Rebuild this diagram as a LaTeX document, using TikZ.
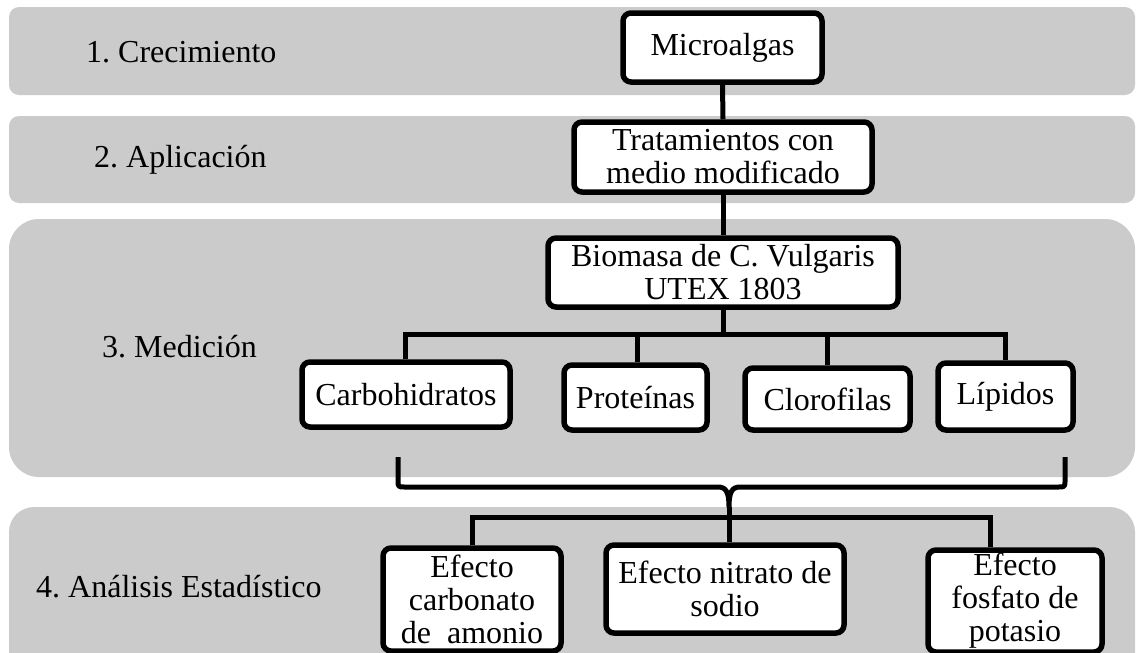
\documentclass[tikz,border=0pt]{standalone}
\usepackage{fontspec}
\setmainfont{Liberation Serif}
\definecolor{bandgray}{RGB}{203,203,203}
\frenchspacing
\begin{document}
\begin{tikzpicture}[x=1pt,y=-1pt,
  font=\fontsize{32}{33}\selectfont,
  band/.style={fill=bandgray},
  lbl/.style={anchor=west, inner sep=0pt},
  box/.style={draw=black, line width=5.5pt, rounded corners=8pt, fill=white,
    align=center, inner sep=0pt},
  conn/.style={draw=black, line width=5pt}]
\useasboundingbox (0,0) rectangle (1138,653);
% bands
\fill[band, rounded corners=10pt] (9,7) rectangle (1135,95);
\fill[band, rounded corners=10pt] (9,116) rectangle (1135,203);
\fill[band, rounded corners=30pt] (9,219) rectangle (1135,477);
\fill[band, rounded corners=25pt] (9,507) rectangle (1135,720);
% labels
\node[lbl] (l1) at (86,52) {1. Crecimiento};
\node[lbl] (l2) at (94,160) {2. Aplicación};
\node[lbl] (l3) at (102,347) {3. Medición};
\node[lbl] (l4) at (36,587) {4. Análisis Estadístico};
% boxes
\node[box, minimum width=199pt, minimum height=69pt] (micro) at (722.5,47.5) {Microalgas};
\node[box, minimum width=298pt, minimum height=70pt] (trat) at (723,157) {Tratamientos con\\medio modificado};
\node[box, minimum width=350pt, minimum height=69pt] (bio) at (723,272.5) {Biomasa de C. Vulgaris\\UTEX 1803};
\node[box, minimum width=208pt, minimum height=65pt] (carb) at (406,394.5) {Carbohidratos};
\node[box, minimum width=143pt, minimum height=65pt] (prot) at (635.5,397.5) {Proteínas};
\node[box, minimum width=165pt, minimum height=62pt] (clor) at (827.5,399) {Clorofilas};
\node[box, minimum width=135pt, minimum height=67pt] (lip) at (1005.5,396.5) {Lípidos};
\node[box, minimum width=178pt, minimum height=103pt] (carbo) at (472,599.5) {Efecto\\carbonato\\de\ \ amonio};
\node[box, minimum width=238pt, minimum height=88pt] (nitr) at (725,589) {Efecto nitrato de\\sodio};
\node[box, minimum width=174pt, minimum height=102pt] (fosf) at (1015,601) {Efecto\\fosfato de\\potasio};
% junction coordinates
\coordinate (h1) at (723,334);
\coordinate (cusp) at (729,507);
\coordinate (h2) at (729,517);
% connectors
\draw[conn] (micro.south) -- (trat.north);
\draw[conn] (trat.south) -- (bio.north);
\draw[conn] (bio.south) -- (h1);
\draw[conn] ([xshift=-1pt]carb.north) |- (h1) -| (lip.north);
\draw[conn] ([xshift=1.5pt]prot.north) -- ([xshift=1.5pt]prot.north |- h1);
\draw[conn] (clor.north) -- (clor.north |- h1);
\draw[conn, line join=round] (398,457) -- (398,480) .. controls (398,487) .. (405,487)
  -- (718,487) .. controls (726,487) and (729,492) .. (cusp)
  .. controls (729,492) and (732,487) .. (740,487)
  -- (1058,487) .. controls (1065,487) .. (1065,480) -- (1065,457);
\draw[conn] (cusp) -- (cusp |- nitr.north);
\draw[conn] (carbo.north) |- (h2) -| ([xshift=-25pt]fosf.north);
\end{tikzpicture}
\end{document}
